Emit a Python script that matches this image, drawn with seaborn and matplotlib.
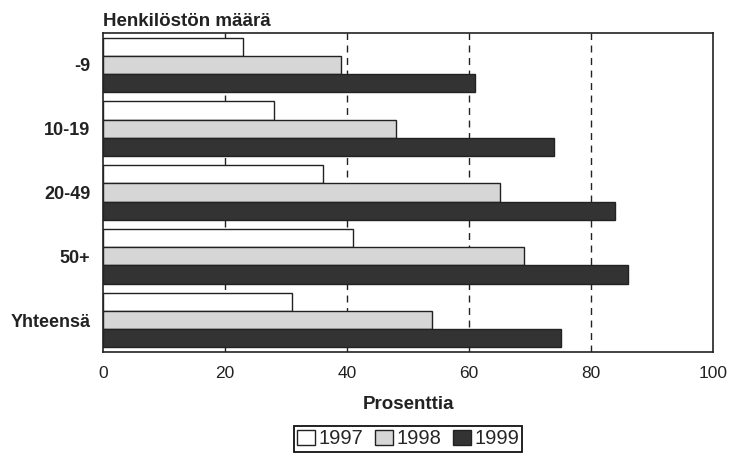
import pandas as pd
import seaborn as sns
import matplotlib.pyplot as plt

sns.set_theme(style="white")
plt.rcParams['font.family'] = ['Liberation Sans', 'DejaVu Sans']

# data
groups = ['-9', '10-19', '20-49', '50+', 'Yhteensä']
years = ['1997', '1998', '1999']
v1997 = [23, 28, 36, 41, 31]
v1998 = [39, 48, 65, 69, 54]
v1999 = [61, 74, 84, 86, 75]

df = pd.DataFrame({
    'group': groups * 3,
    'year': [y for y in years for _ in groups],
    'value': v1997 + v1998 + v1999,
})

fig = plt.figure(figsize=(7.3, 4.53), dpi=100)
ax = fig.add_axes([103/730, 1-352/453, (713-103)/730, (352-33)/453])

# dashed grid behind bars
for x in [20, 40, 60, 80]:
    ax.axvline(x, color='#222222', lw=1, ls=(0, (5, 4)), zorder=0)

sns.barplot(data=df, x='value', y='group', hue='year', order=groups, hue_order=years,
            orient='h', palette=['white', '#d6d6d6', '#333333'], edgecolor='#222222',
            linewidth=1, width=0.857, gap=0, ax=ax, zorder=2)

ax.set_xlim(0, 100)
ax.set_ylim(4.5, -0.5)
ax.set_xticks([0, 20, 40, 60, 80, 100])
ax.tick_params(axis='x', length=0, pad=10, labelsize=12.5, colors='#222222')
ax.tick_params(axis='y', length=0, pad=9, labelsize=13, colors='#222222')
for lab in ax.get_yticklabels():
    lab.set_fontweight('bold')
ax.set_ylabel('')
ax.set_xlabel('Prosenttia', fontsize=13.5, fontweight='bold', color='#222222', labelpad=11)
for s in ax.spines.values():
    s.set_visible(True)
    s.set_color('#222222')
    s.set_linewidth(1.2)

fig.text(103/730, 1-26/453, 'Henkilöstön määrä', fontsize=13.5, fontweight='bold',
         color='#222222', ha='left', va='baseline')

handles, labels = ax.get_legend_handles_labels()
ax.get_legend().remove()
leg = fig.legend(handles, labels, loc='center', bbox_to_anchor=(408/730, 1-439/453), ncol=3,
                 fontsize=14.5, frameon=True, fancybox=False, edgecolor='#111111',
                 handlelength=0.9, handleheight=0.8, handletextpad=0.15, columnspacing=0.6,
                 borderpad=0.15, borderaxespad=0)
leg.get_frame().set_linewidth(1.3)
leg.get_frame().set_alpha(1)

fig.savefig('out.png', dpi=100)
